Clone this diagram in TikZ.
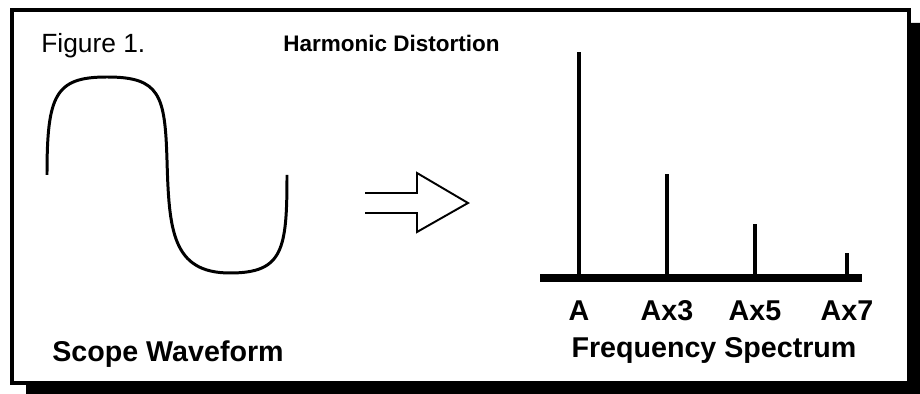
\documentclass[tikz,border=0pt]{standalone}
\usepackage{fontspec}
\setmainfont{Liberation Sans}
\usepackage{tikz}

\begin{document}
\begin{tikzpicture}[x=0.02cm, y=-0.02cm,
    every node/.style={inner sep=0pt},
    lbl/.style={font=\fontsize{16.3}{18}\selectfont\bfseries, anchor=base},
    peak/.style={line width=2.3pt}]
  \useasboundingbox (0,0) rectangle (920,394);

  % frame with shadow
  \fill (909,23) -- (920,23) -- (920,394) -- (26,394) -- (26,383) -- (909,383) -- cycle;
  \draw[line width=2.3pt] (12,10) rectangle (909,383);

  \node[anchor=base west, font=\fontsize{15}{17}\selectfont] (fig) at (41,53) {Figure 1.};
  \node[anchor=base west, font=\fontsize{12.8}{15}\selectfont\bfseries] (title) at (283,52) {Harmonic Distortion};

  % waveform
  \coordinate (w0) at (47,175);
  \coordinate (w1) at (107,77);
  \coordinate (w2) at (167,160);
  \coordinate (w3) at (230,273);
  \coordinate (w4) at (287,175);
  \draw[line width=1.7pt]
    (w0) .. controls (47,95) and (55,77) .. (w1)
         .. controls (160,77) and (165,95) .. (w2)
         .. controls (169,230) and (172,273) .. (w3)
         .. controls (283,273) and (287,250) .. (w4);
  \node[lbl] (scope) at (168,362) {Scope Waveform};

  % arrow
  \draw[line width=1.1pt] (365,193) -- (417,193) -- (417,173) -- (468,203)
    -- (417,232) -- (417,213) -- (365,213);

  % spectrum
  \coordinate (s0) at (540,278);
  \coordinate (s1) at (862,278);
  \draw[line width=5pt] (s0) -- (s1);
  \foreach \x/\h/\t in {579/52/A, 667/174/Ax3, 755/224/Ax5, 847/253/Ax7} {
    \coordinate (b\t) at (\x,278);
    \coordinate (p\t) at (\x,\h);
    \draw[peak] (b\t) -- (p\t);
    \node[lbl] (l\t) at (\x,321) {\t};
  }
  \node[lbl] (freq) at (714,358) {Frequency Spectrum};
\end{tikzpicture}
\end{document}
